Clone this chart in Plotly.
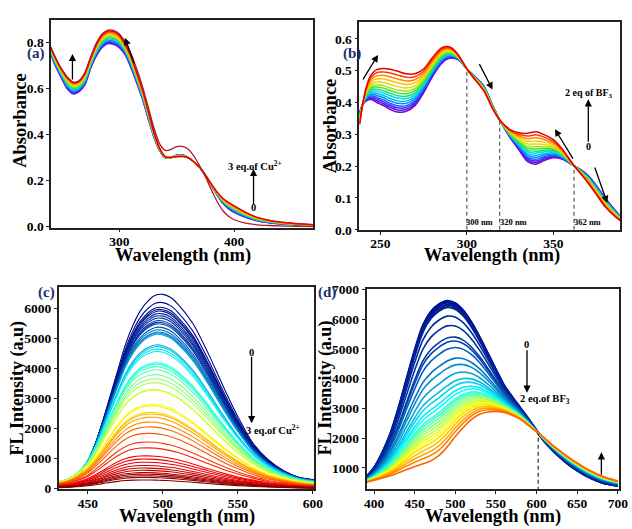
import numpy as np
import plotly.graph_objects as go
from plotly.colors import sample_colorscale

# ---------------- data ----------------
# Panel (a): UV-vis with Cu2+
wl_a = [240, 245, 250, 255, 260, 265, 270, 275, 280, 285, 290, 295, 300, 305, 310, 315, 320,
        325, 330, 335, 340, 345, 350, 355, 360, 365, 370, 375, 380, 385, 390, 395, 400, 410,
        420, 430, 440, 450, 460, 470]
abs_a_start = [0.75, 0.69, 0.64, 0.595, 0.575, 0.585, 0.615, 0.686, 0.74, 0.776, 0.793, 0.79,
               0.775, 0.745, 0.69, 0.625, 0.555, 0.47, 0.39, 0.33, 0.298, 0.30, 0.31, 0.311,
               0.30, 0.28, 0.255, 0.222, 0.178, 0.138, 0.102, 0.078, 0.062, 0.04, 0.025, 0.017,
               0.012, 0.009, 0.006, 0.005]
abs_a_end = [0.78, 0.725, 0.68, 0.645, 0.625, 0.632, 0.665, 0.73, 0.79, 0.83, 0.846, 0.845,
             0.83, 0.79, 0.74, 0.67, 0.595, 0.505, 0.41, 0.34, 0.303, 0.30, 0.303, 0.304,
             0.298, 0.28, 0.257, 0.222, 0.185, 0.15, 0.123, 0.105, 0.09, 0.062, 0.04, 0.028,
             0.02, 0.015, 0.011, 0.008]
abs_a_free = [0.78, 0.725, 0.68, 0.645, 0.625, 0.632, 0.668, 0.735, 0.795, 0.835, 0.852, 0.85,
              0.835, 0.80, 0.75, 0.685, 0.61, 0.52, 0.43, 0.36, 0.33, 0.335, 0.347, 0.348,
              0.335, 0.305, 0.262, 0.215, 0.16, 0.11, 0.07, 0.045, 0.03, 0.015, 0.008, 0.005,
              0.003, 0.002, 0.001, 0.0]
abs_a_at290 = [0.793, 0.797, 0.802, 0.807, 0.812, 0.817, 0.822, 0.828, 0.834, 0.840, 0.846]
ticks_a_x = [300, 400]
ticks_a_y = [0.0, 0.2, 0.4, 0.6, 0.8]

# Panel (b): UV-vis with BF3
wl_b = [238, 240, 242, 244, 246, 248, 250, 252, 255, 260, 265, 270, 275, 280, 285, 288, 291,
        295, 300, 305, 310, 315, 319, 325, 330, 335, 340, 345, 350, 355, 362, 366, 370, 375,
        380, 385, 389]
abs_b_start = [0.37, 0.395, 0.405, 0.409, 0.407, 0.40, 0.395, 0.39, 0.38, 0.37, 0.372, 0.39,
               0.43, 0.48, 0.52, 0.535, 0.54, 0.535, 0.506, 0.48, 0.45, 0.39, 0.345, 0.29,
               0.252, 0.215, 0.206, 0.218, 0.226, 0.222, 0.201, 0.188, 0.171, 0.138, 0.10,
               0.066, 0.04]
abs_b_end = [0.33, 0.40, 0.45, 0.48, 0.495, 0.503, 0.506, 0.507, 0.505, 0.498, 0.49, 0.49,
             0.505, 0.54, 0.57, 0.576, 0.572, 0.55, 0.506, 0.47, 0.435, 0.38, 0.345, 0.315,
             0.305, 0.303, 0.308, 0.298, 0.283, 0.255, 0.201, 0.175, 0.148, 0.11, 0.072,
             0.045, 0.028]
abs_b_at252 = [0.390, 0.396, 0.402, 0.408, 0.415, 0.422, 0.430, 0.437, 0.445, 0.453, 0.463,
               0.474, 0.485, 0.496, 0.507]
iso_b = [300, 319, 362]
iso_b_labels = ["300 nm", "320 nm", "362 nm"]
ticks_b_x = [250, 300, 350]
ticks_b_y = [0.0, 0.1, 0.2, 0.3, 0.4, 0.5, 0.6]

# Panel (c): fluorescence with Cu2+
wl_c = [430, 435, 440, 445, 450, 455, 460, 465, 470, 475, 480, 485, 490, 495, 500, 505, 510,
        520, 530, 540, 550, 560, 570, 580, 590, 601]
shape_c_first = [0.025, 0.03, 0.045, 0.08, 0.136, 0.23, 0.35, 0.48, 0.61, 0.74, 0.84, 0.915,
                 0.965, 0.995, 1.0, 0.985, 0.95, 0.85, 0.70, 0.53, 0.37, 0.235, 0.15, 0.095,
                 0.06, 0.045]
shape_c_last = [0.1, 0.13, 0.18, 0.25, 0.33, 0.45, 0.58, 0.72, 0.84, 0.93, 0.98, 1.0, 0.995,
                0.98, 0.95, 0.91, 0.86, 0.73, 0.59, 0.46, 0.35, 0.26, 0.18, 0.13, 0.09, 0.06]
peaks_c = [6460, 6185, 6024, 5950, 5895, 5810, 5735, 5660, 5575, 5520, 5470, 5360, 5275, 5200,
           5170, 5125, 4775, 4720, 4635, 4560, 4187, 4133, 4058, 3952, 3791, 3653, 3525, 3300,
           3279, 2798, 2745, 2531, 2478, 2371, 2211, 2050, 1837, 1549, 1356, 1089, 983, 876,
           769, 684, 609, 534, 481, 427, 374, 288]
ticks_c_x = [450, 500, 550, 600]
ticks_c_y = [0, 1000, 2000, 3000, 4000, 5000, 6000]

# Panel (d): fluorescence with BF3
wl_d = [390, 400, 410, 420, 430, 440, 450, 460, 470, 480, 490, 500, 510, 520, 530, 540, 550,
        560, 570, 580, 590, 602, 610, 620, 630, 640, 650, 660, 670, 680, 690, 700]
fl_d_start = [680, 1000, 1500, 2140, 3000, 3985, 4950, 5775, 6250, 6500, 6610, 6530, 6280,
              5880, 5390, 4850, 4300, 3770, 3380, 3010, 2640, 2170, 1890, 1600, 1340, 1110,
              920, 753, 625, 514, 450, 405]
fl_d_end = [515, 580, 640, 710, 800, 894, 975, 1056, 1150, 1330, 1620, 1980, 2300, 2575, 2760,
            2846, 2875, 2846, 2760, 2630, 2430, 2170, 2000, 1760, 1550, 1350, 1170, 1000, 860,
            731, 640, 568]
peaks_d = [6610, 6555, 6480, 6403, 6100, 5774, 5395, 5265, 5048, 4690, 4473, 4223, 4006, 3876,
           3746, 3659, 3551, 3497, 3442, 3388, 3334, 3280, 3226, 3171, 3117, 3063, 3009, 2954,
           2900]
iso_d = [602]
ticks_d_x = [400, 450, 500, 550, 600, 650, 700]
ticks_d_y = [1000, 2000, 3000, 4000, 5000, 6000, 7000]

# ---------------- helpers ----------------
W, H = 632, 529
def PX(x):
    return x / W
def PY(y):
    return 1 - y / H

FONT = "Liberation Serif"
rainbow = [[0.0, "rgb(125,0,200)"], [0.14, "rgb(60,40,255)"], [0.28, "rgb(0,140,255)"],
           [0.42, "rgb(0,220,230)"], [0.55, "rgb(40,220,60)"], [0.68, "rgb(200,235,0)"],
           [0.78, "rgb(255,200,0)"], [0.88, "rgb(255,110,0)"], [1.0, "rgb(230,0,0)"]]

fig = go.Figure()

def add_lines(xs, ys_list, colors, xa, ya, width=1.4, widths=None):
    for i, (ys, c) in enumerate(zip(ys_list, colors)):
        fig.add_trace(go.Scatter(x=xs, y=ys, mode="lines", xaxis=xa, yaxis=ya,
                                 line=dict(color=c, width=(widths[i] if widths else width),
                                           shape="spline", smoothing=0.8),
                                 showlegend=False, hoverinfo="skip"))

# (a)
a0, a1 = np.array(abs_a_start), np.array(abs_a_end)
ia = wl_a.index(290)
curves_a = [a0 + (v - a0[ia]) / (a1[ia] - a0[ia]) * (a1 - a0) for v in abs_a_at290]
cols_a = sample_colorscale(rainbow, list(np.linspace(0, 1, len(curves_a))))
add_lines(wl_a, curves_a, cols_a, "x", "y", 1.5)
add_lines(wl_a, [abs_a_free], ["rgb(175,25,35)"], "x", "y", 1.3)

# (b)
b0, b1 = np.array(abs_b_start), np.array(abs_b_end)
ib = wl_b.index(252)
curves_b = [b0 + (v - b0[ib]) / (b1[ib] - b0[ib]) * (b1 - b0) for v in abs_b_at252]
cols_b = sample_colorscale(rainbow, list(np.linspace(0, 1, len(curves_b))))
add_lines(wl_b, curves_b, cols_b, "x2", "y2", 1.5)
for xv in iso_b:
    yv = float(np.interp(xv, wl_b, abs_b_end))
    fig.add_trace(go.Scatter(x=[xv, xv], y=[0, yv], mode="lines", xaxis="x2", yaxis="y2",
                             line=dict(color="rgb(90,90,90)", width=1.2, dash="4px,3px"),
                             showlegend=False, hoverinfo="skip"))

# (c)
c0, c1 = np.array(shape_c_first), np.array(shape_c_last)
pmax, pmin = peaks_c[0], peaks_c[-1]
curves_c = []
for p in peaks_c:
    f = (pmax - p) / (pmax - pmin)
    s = (1 - f) * c0 + f * c1
    curves_c.append(p * s / s.max())
cols_c = sample_colorscale("Jet", list(np.linspace(0, 1, len(curves_c))))
add_lines(wl_c, curves_c, cols_c, "x3", "y3", 1.1)

# (d)
d0, d1 = np.array(fl_d_start), np.array(fl_d_end)
fs = np.linspace(0, 1, 2001)
mx = np.array([((1 - f) * d0 + f * d1).max() for f in fs])
curves_d = []
for p in peaks_d:
    f = float(np.interp(p, mx[::-1], fs[::-1]))
    curves_d.append((1 - f) * d0 + f * d1)
cols_d = sample_colorscale("Jet", list(np.linspace(0.04, 0.72, len(curves_d))))
wd = [2.4 if i < 4 else 1.6 for i in range(len(curves_d))]
add_lines(wl_d, curves_d, cols_d, "x4", "y4", widths=wd)
for xv in iso_d:
    yv = float(np.interp(xv, wl_d, fl_d_end))
    fig.add_trace(go.Scatter(x=[xv, xv], y=[0, yv], mode="lines", xaxis="x4", yaxis="y4",
                             line=dict(color="rgb(60,60,60)", width=1.3, dash="4px,3px"),
                             showlegend=False, hoverinfo="skip"))

# ---------------- axes ----------------
tickfont = dict(family=FONT, size=13.5, color="black", weight="bold")
def axis(dom, rng, tickvals, anchor, fmt=None, standoff=0):
    labels = [(format(v, fmt) if fmt else str(v)) for v in tickvals]
    d = dict(domain=dom, range=rng, tickmode="array", tickvals=tickvals, ticktext=labels,
             anchor=anchor, showgrid=False, zeroline=False,
             showline=True, linecolor="#222", linewidth=1.6, mirror=True, ticks="outside",
             ticklen=3, tickwidth=1.4, tickcolor="#222", tickfont=tickfont,
             ticklabelstandoff=standoff)
    return d

fig.update_layout(
    width=W, height=H, margin=dict(l=0, r=0, t=0, b=0),
    paper_bgcolor="white", plot_bgcolor="white",
    xaxis=axis([PX(50), PX(317)], [240.6, 469], ticks_a_x, "y", standoff=-3),
    yaxis=axis([PY(227), PY(13)], [-0.004, 0.897], ticks_a_y, "x", ".1f"),
    xaxis2=axis([PX(363.7), PX(629)], [237.9, 388.6], ticks_b_x, "y2", standoff=-3),
    yaxis2=axis([PY(229.3), PY(15.7)], [0, 0.652], ticks_b_y, "x2", ".1f"),
    xaxis3=axis([PX(57.7), PX(318)], [430.6, 601], ticks_c_x, "y3", standoff=-2),
    yaxis3=axis([PY(496), PY(288.3)], [-10, 6700], ticks_c_y, "x3"),
    xaxis4=axis([PX(371), PX(627.7)], [390.7, 701.2], ticks_d_x, "y4", standoff=-2),
    yaxis4=axis([PY(496), PY(290)], [295, 7020], ticks_d_y, "x4"),
)

ann = []
def text(x, y, s, size, color="black", angle=0, xanchor="center", yanchor="middle"):
    ann.append(dict(x=PX(x), y=PY(y), xref="paper", yref="paper", text=s, showarrow=False,
                    textangle=angle, xanchor=xanchor, yanchor=yanchor, borderpad=0,
                    font=dict(family=FONT, size=size, color=color, weight="bold")))
def arrow(x, y, ax, ay):
    ann.append(dict(x=PX(x), y=PY(y), xref="paper", yref="paper", text="", showarrow=True,
                    ax=ax, ay=ay, arrowhead=2, arrowsize=1.1, arrowwidth=1.3,
                    arrowcolor="black"))

# axis titles
for (x, y) in [(18.5, 117), (333.5, 122)]:
    text(x, y, "Absorbance", 18.5, angle=-90)
for (x, y) in [(16, 392), (330, 392)]:
    text(x, y, "FL Intensity (a.u)", 18, angle=-90)
for (x, y) in [(184, 256), (498.5, 256), (188, 524), (500, 524)]:
    text(x, y, "Wavelength (nm)", 18.5)

# panel labels
navy = "rgb(30,45,110)"
text(35, 48, "(a)", 15, navy)
text(356, 48, "(b)", 15, navy)
text(45, 294, "(c)", 15, navy)
text(331, 294, "(d)", 15, navy)

# panel (a) annotations
arrow(71.7, 48.3, 0, 27)
arrow(125, 31.7, 10, 27)
arrow(256, 166.7, 0, 37)
text(257, 163, "3 eq.of Cu<sup>2+</sup>", 10.5)
text(256, 206, "0", 10.5)

# panel (b) annotations
arrow(382.7, 49.3, -16, 26)
arrow(499.3, 85, -14, -27)
arrow(562.7, 125.7, 19, 31)
arrow(616, 201.7, -13, -37)
arrow(596.7, 95, 0, 44)
text(597.7, 89.3, "2 eq of BF<sub>3</sub>", 10)
text(596.7, 144, "0", 10)
for lab, cx in zip(iso_b_labels, [486, 521, 596]):
    text(cx, 221.7, lab, 8.5)

# panel (c) annotations
arrow(254, 428.3, 0, -68)
text(254, 356, "0", 10.5)
text(276, 434.7, "3 eq.of Cu<sup>2+</sup>", 10.5)

# panel (d) annotations
arrow(534.3, 397, 0, -44)
arrow(610, 458.3, 0, 24)
text(533.3, 347.3, "0", 10.5)
text(553, 404.3, "2 eq.of BF<sub>3</sub>", 10.5)

fig.update_layout(annotations=ann)
fig.write_html("out.html")
